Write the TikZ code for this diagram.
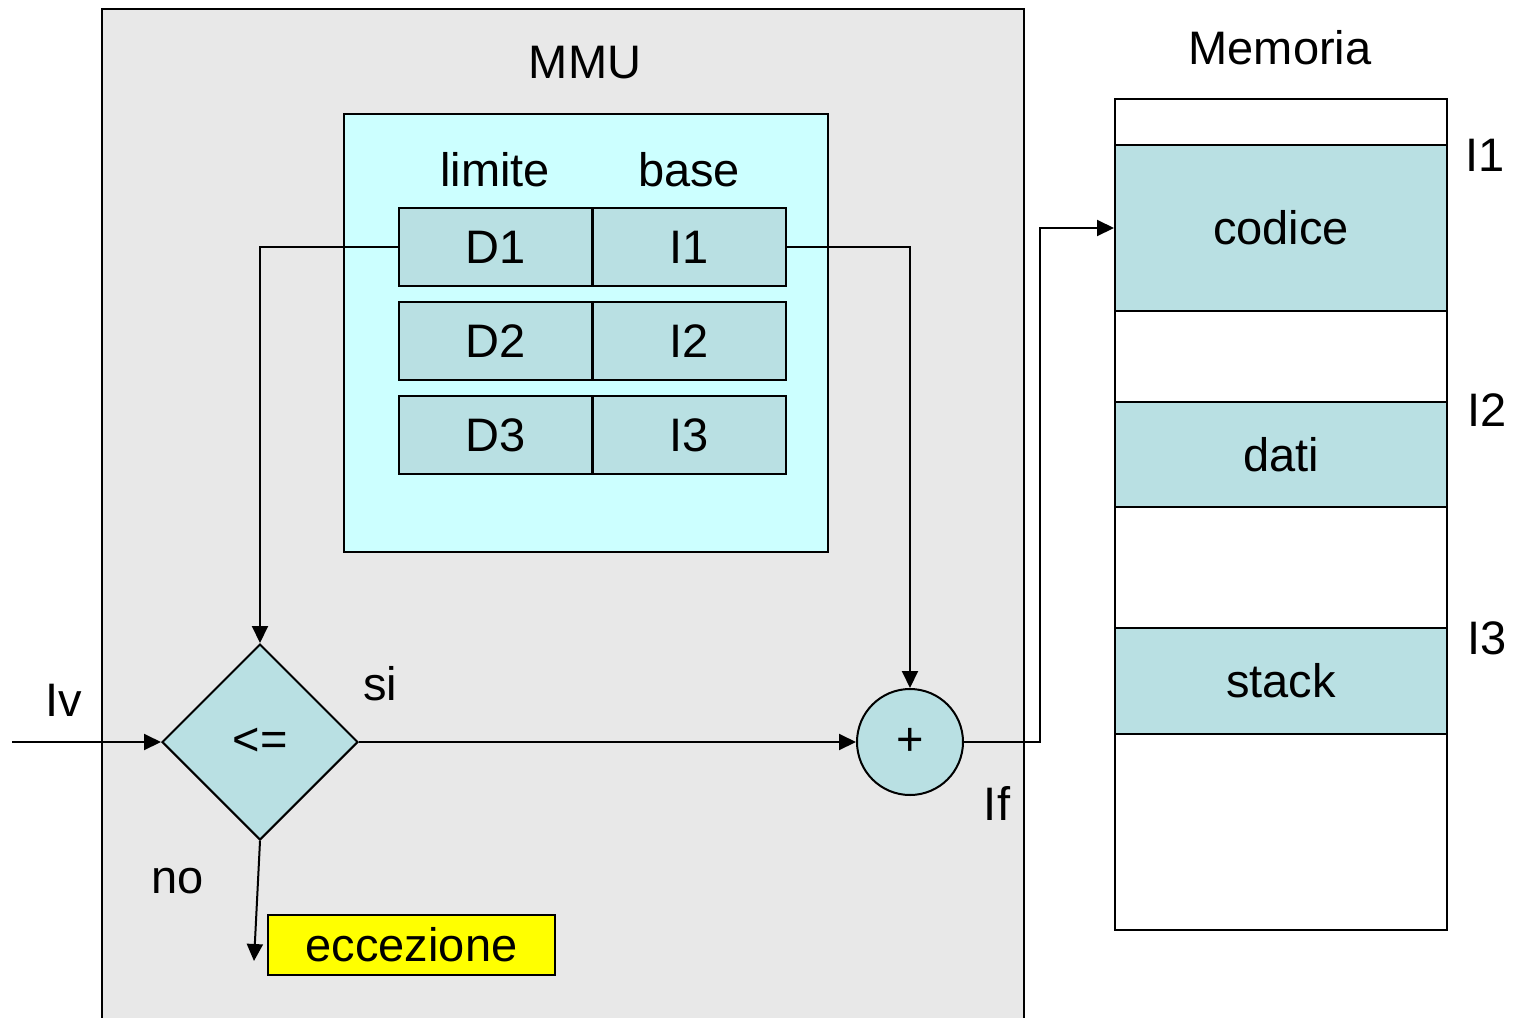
\documentclass[tikz,border=0pt]{standalone}
\usepackage{fontspec}
\setmainfont{Liberation Sans}
\usetikzlibrary{shapes.geometric,arrows.meta}
\definecolor{mmugray}{HTML}{E8E8E8}
\definecolor{regcyan}{HTML}{CCFFFF}
\definecolor{teal}{HTML}{B9E0E3}
\definecolor{excyellow}{HTML}{FFFF00}
\tikzset{
  big/.style={font=\fontsize{23.5}{28}\selectfont},
  small/.style={font=\fontsize{23.5}{28}\selectfont},
  box/.style={draw=black,line width=1pt,inner sep=0pt,rectangle},
  cell/.style={box,fill=teal,minimum width=96.5pt,minimum height=39pt,small},
  band/.style={box,fill=teal,minimum width=166pt,big},
  arr/.style={line width=1pt,-{Triangle[length=8.5pt,width=8pt]}},
  lbl/.style={inner sep=0pt},
}
\begin{document}
\begin{tikzpicture}[x=0.5pt,y=-0.5pt]
\useasboundingbox (0,0) rectangle (1522,1018);
\clip (0,0) rectangle (1522,1018);
% MMU
\node[box,fill=mmugray,minimum width=461pt,minimum height=510.5pt] (mmu) at (563,519.5) {};
\node[lbl,big] (mmut) at (585,63) {MMU};
\node[box,fill=regcyan,minimum width=242pt,minimum height=219pt] (regs) at (586,333) {};
\node[lbl,big] (lim) at (495,170) {limite};
\node[lbl,big] (bas) at (689,170) {base};
\node[cell] (d1) at (495.5,247) {D1};
\node[cell] (i1) at (689,247) {I1};
\node[cell] (d2) at (495.5,341) {D2};
\node[cell] (i2) at (689,341) {I2};
\node[cell] (d3) at (495.5,435) {D3};
\node[cell] (i3) at (689,435) {I3};
% diamond and adder
\node[diamond,draw=black,line width=1pt,fill=teal,inner sep=0pt,minimum width=98pt,minimum height=98pt,shape aspect=1,big] (dia) at (260,742) {<=};
\node[circle,draw=black,line width=1pt,fill=teal,inner sep=0pt,minimum size=53pt,big] (plus) at (910,742) {+};
\node[box,fill=excyellow,minimum width=143.5pt,minimum height=30pt,big] (exc) at (411.5,945) {eccezione};
% memory
\node[box,fill=white,minimum width=166pt,minimum height=415.5pt] (mem) at (1281,514.5) {};
\node[band,minimum height=83pt] (codice) at (1281,228) {codice};
\node[band,minimum height=52.5pt] (dati) at (1281,454.5) {dati};
\node[band,minimum height=53pt] (stack) at (1281,681) {stack};
\node[lbl,big] (memt) at (1280,48) {Memoria};
\node[lbl,small] (l1) at (1485,155) {I1};
\node[lbl,small] (l2) at (1487,410) {I2};
\node[lbl,small] (l3) at (1487,638) {I3};
% labels
\node[lbl,big] (lv) at (64,700) {Iv};
\node[lbl,big] (si) at (380,684) {si};
\node[lbl,big] (no) at (178,881) {no};
\node[lbl,big] (lf) at (997,803) {If};
% connectors
\coordinate (in) at (12,742);
\coordinate (noend) at (254,961);
\draw[arr] (in) -- (dia.west);
\draw[arr] (d1.west) -| (dia.north);
\draw[arr] (i1.east) -| (plus.north);
\draw[arr] (dia.east) -- (plus.west);
\draw[arr] (plus.east) -- ++(76,0) |- (codice.west);
\draw[arr] (dia.south) -- (noend);
\end{tikzpicture}
\end{document}
